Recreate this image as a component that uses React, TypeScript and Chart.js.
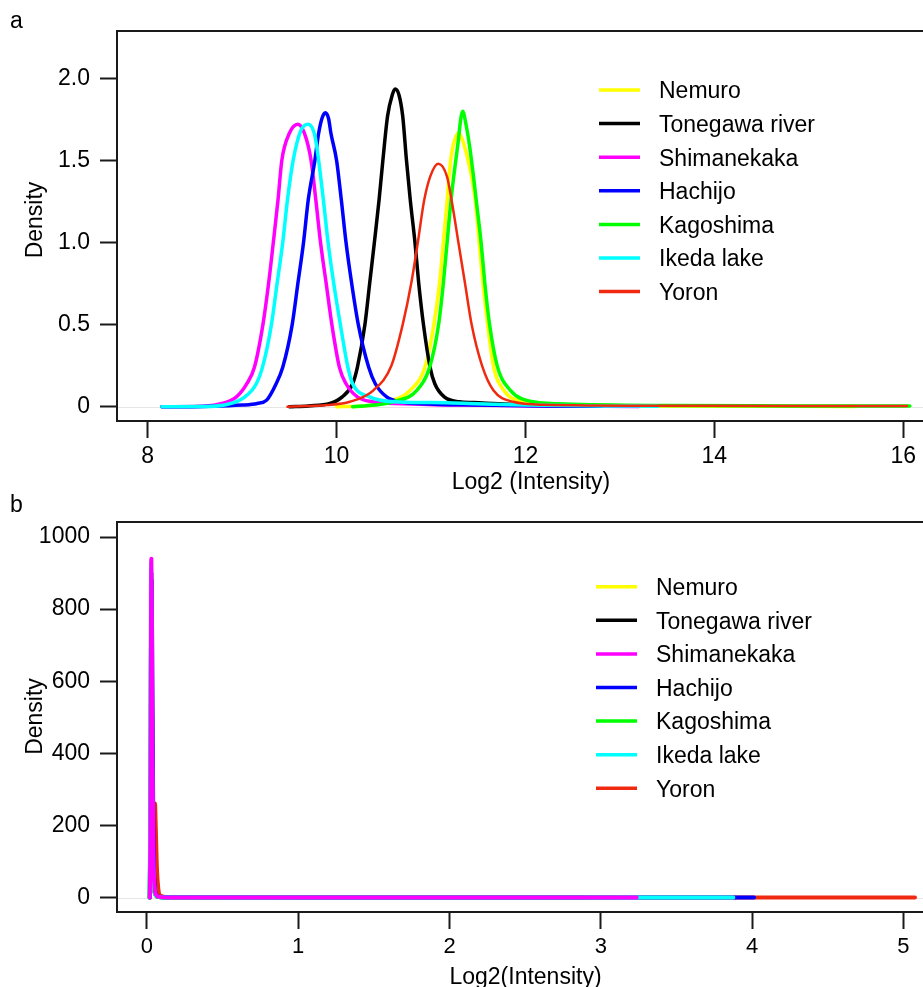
import React, { useEffect, useRef } from "react";
import { Chart, registerables } from "chart.js";

Chart.register(...registerables);

// ---------- data ----------
const seriesNames = ["Nemuro", "Tonegawa river", "Shimanekaka", "Hachijo", "Kagoshima", "Ikeda lake", "Yoron"];
const seriesColors = ["#ffff00", "#000000", "#ff00ff", "#0000ff", "#00ff00", "#00ffff", "#f02a10"];

// Panel a: density of log2 intensity  [x, density]
const nemuroA = [[10.0,0],[10.3,0.005],[10.53,0.03],[10.78,0.1],[10.94,0.25],[11.03,0.5],[11.09,0.75],[11.13,1.0],[11.17,1.25],[11.19,1.4],[11.22,1.55],[11.26,1.64],[11.29,1.665],[11.33,1.63],[11.38,1.53],[11.43,1.4],[11.47,1.25],[11.51,1.0],[11.55,0.75],[11.6,0.5],[11.66,0.25],[11.77,0.1],[11.98,0.03],[12.4,0.012],[13.5,0.005],[14.8,0.003],[15.5,0.002]];
const tonegawaA = [[9.5,0],[9.7,0.005],[9.93,0.02],[10.06,0.06],[10.17,0.14],[10.22,0.24],[10.3,0.5],[10.35,0.75],[10.4,1.0],[10.45,1.26],[10.49,1.5],[10.54,1.77],[10.59,1.9],[10.62,1.935],[10.66,1.9],[10.7,1.77],[10.74,1.5],[10.78,1.26],[10.83,1.0],[10.87,0.75],[10.92,0.5],[10.99,0.24],[11.04,0.14],[11.14,0.06],[11.3,0.03],[11.45,0.025],[12.0,0.012],[12.6,0.006],[13.0,0.004]];
const shimanekakaA = [[8.15,0],[8.5,0.001],[8.75,0.015],[8.94,0.06],[9.05,0.14],[9.13,0.24],[9.22,0.5],[9.28,0.75],[9.33,1.0],[9.38,1.26],[9.42,1.5],[9.5,1.665],[9.59,1.72],[9.66,1.665],[9.73,1.5],[9.78,1.26],[9.83,1.0],[9.89,0.75],[9.95,0.5],[10.03,0.24],[10.1,0.14],[10.22,0.06],[10.38,0.03],[10.7,0.018],[11.3,0.01],[12.2,0.004],[13.2,0.002]];
const hachijoA = [[8.15,0],[8.6,0.002],[9.0,0.01],[9.16,0.02],[9.26,0.04],[9.36,0.14],[9.43,0.24],[9.53,0.5],[9.59,0.75],[9.65,1.0],[9.7,1.26],[9.77,1.5],[9.81,1.665],[9.845,1.755],[9.88,1.79],[9.915,1.755],[9.94,1.665],[10.0,1.5],[10.05,1.26],[10.1,1.0],[10.16,0.75],[10.23,0.5],[10.34,0.24],[10.41,0.14],[10.53,0.06],[10.67,0.03],[10.9,0.018],[11.5,0.01],[12.2,0.005],[12.8,0.003]];
const kagoshimaA = [[10.17,0],[10.4,0.01],[10.6,0.03],[10.85,0.1],[10.99,0.25],[11.08,0.5],[11.13,0.75],[11.17,1.0],[11.21,1.25],[11.24,1.4],[11.28,1.58],[11.335,1.8],[11.37,1.72],[11.41,1.58],[11.45,1.4],[11.48,1.25],[11.53,1.0],[11.57,0.75],[11.62,0.5],[11.7,0.25],[11.84,0.1],[12.08,0.03],[12.5,0.015],[13.5,0.007],[14.8,0.005],[16.07,0.004]];
const ikedaA = [[8.15,0],[8.6,0.001],[8.85,0.015],[9.03,0.06],[9.15,0.14],[9.22,0.25],[9.31,0.5],[9.37,0.75],[9.43,1.0],[9.48,1.26],[9.54,1.5],[9.62,1.68],[9.7,1.72],[9.77,1.65],[9.81,1.5],[9.86,1.26],[9.91,1.0],[9.97,0.75],[10.04,0.5],[10.12,0.24],[10.17,0.14],[10.35,0.06],[10.6,0.03],[11.0,0.025],[11.4,0.02],[12.0,0.01],[12.8,0.005],[13.4,0.003]];
const yoronA = [[9.48,0],[9.9,0.01],[10.14,0.03],[10.39,0.1],[10.58,0.25],[10.7,0.5],[10.79,0.75],[10.86,1.0],[10.925,1.25],[10.99,1.4],[11.077,1.48],[11.17,1.4],[11.22,1.25],[11.29,1.0],[11.36,0.75],[11.43,0.5],[11.54,0.25],[11.66,0.1],[11.87,0.03],[12.2,0.012],[13.5,0.006],[15.0,0.004],[16.04,0.004]];

// Panel b: density of log2 of (unlogged) intensity  [x, density]
const nemuroB = [[0.018,0],[0.024,300],[0.029,880],[0.034,500],[0.04,120],[0.05,20],[0.07,3],[0.12,0.5],[1.0,0.05],[2.6,0]];
const tonegawaB = [[0.018,0],[0.024,320],[0.029,900],[0.034,480],[0.04,110],[0.05,15],[0.07,2],[0.12,0.5],[1.0,0.05],[2.9,0]];
const shimanekakaB = [[0.019,0],[0.023,200],[0.027,800],[0.029,940],[0.032,800],[0.036,400],[0.042,120],[0.05,30],[0.06,8],[0.08,2],[0.15,0.3],[1.0,0.05],[3.237,0]];
const hachijoB = [[0.02,0],[0.026,400],[0.031,880],[0.036,600],[0.042,200],[0.05,40],[0.065,6],[0.1,1],[1.0,0.05],[4.013,0]];
const kagoshimaB = [[0.017,0],[0.022,150],[0.027,700],[0.032,600],[0.038,150],[0.05,15],[0.07,2],[0.12,0.3],[1.0,0.05],[3.1,0]];
const ikedaB = [[0.017,0],[0.021,200],[0.025,850],[0.027,930],[0.031,700],[0.036,300],[0.045,50],[0.06,5],[0.1,0.5],[1.0,0.05],[3.876,0]];
const yoronB = [[0.017,0],[0.025,40],[0.035,120],[0.045,230],[0.053,261],[0.058,200],[0.065,90],[0.075,25],[0.09,5],[0.15,0.5],[1.0,0.05],[5.077,0]];

const seriesA = [nemuroA, tonegawaA, shimanekakaA, hachijoA, kagoshimaA, ikedaA, yoronA];
const seriesB = [nemuroB, tonegawaB, shimanekakaB, hachijoB, kagoshimaB, ikedaB, yoronB];

const xTicksA = [8, 10, 12, 14, 16];
const xTickLabelsA = ["8", "10", "12", "14", "16"];
const yTicksA = [0, 0.5, 1, 1.5, 2];
const yTickLabelsA = ["0", "0.5", "1.0", "1.5", "2.0"];
const xTicksB = [0, 1, 2, 3, 4, 5];
const xTickLabelsB = ["0", "1", "2", "3", "4", "5"];
const yTicksB = [0, 200, 400, 600, 800, 1000];
const yTickLabelsB = ["0", "200", "400", "600", "800", "1000"];

const xRangeA = [7.675, 16.209];
const yRangeA = [-0.087, 2.288];
const xRangeB = [-0.198, 5.13];
const yRangeB = [-39.9, 1041.6];

// draw order: lower value = drawn on top
const orderA = [6, 5, 4, 3, 2, 1, 0];
const orderB = [6, 5, 0, 2, 4, 1, 3];

// ---------- styling / layout ----------
const FONT = "'Liberation Sans', Arial, Helvetica, sans-serif";
const INK = "#1a1a1a";

type PanelCfg = {
  letter: string;
  letterX: number;
  letterY: number;
  yTitle: string;
  yTitleX: number;
  yTitleY: number;
  xTitle: string;
  xTitleX: number;
  xTitleY: number;
  legX1: number;
  legX2: number;
  legTextX: number;
  legY0: number;
  legStep: number;
};

function makeDecor(cfg: PanelCfg) {
  return {
    id: "decor" + cfg.letter,
    beforeDatasetsDraw(chart: any) {
      const { ctx, chartArea: a, scales } = chart;
      const y0 = scales.y.getPixelForValue(0);
      ctx.save();
      ctx.strokeStyle = "#e6e6e6";
      ctx.lineWidth = 1;
      ctx.beginPath();
      ctx.moveTo(a.left, Math.round(y0) + 0.5);
      ctx.lineTo(a.right, Math.round(y0) + 0.5);
      ctx.stroke();
      ctx.restore();
    },
    afterDraw(chart: any) {
      const { ctx, chartArea: a } = chart;
      ctx.save();
      // box (right side lies beyond the visible canvas)
      ctx.strokeStyle = INK;
      ctx.lineWidth = 2;
      ctx.strokeRect(a.left, a.top, a.right - a.left + 40, a.bottom - a.top);

      ctx.fillStyle = "#000";
      ctx.font = `23px ${FONT}`;
      ctx.textBaseline = "alphabetic";
      // panel letter
      ctx.textAlign = "left";
      ctx.fillText(cfg.letter, cfg.letterX, cfg.letterY);
      // x title
      ctx.textAlign = "center";
      ctx.fillText(cfg.xTitle, cfg.xTitleX, cfg.xTitleY);
      // y title
      ctx.save();
      ctx.translate(cfg.yTitleX, cfg.yTitleY);
      ctx.rotate(-Math.PI / 2);
      ctx.textAlign = "center";
      ctx.fillText(cfg.yTitle, 0, 0);
      ctx.restore();
      // legend
      ctx.lineCap = "butt";
      ctx.textAlign = "left";
      seriesNames.forEach((name, i) => {
        const y = cfg.legY0 + i * cfg.legStep;
        ctx.strokeStyle = seriesColors[i];
        ctx.lineWidth = 3.5;
        ctx.beginPath();
        ctx.moveTo(cfg.legX1, y);
        ctx.lineTo(cfg.legX2, y);
        ctx.stroke();
        ctx.fillStyle = "#000";
        ctx.fillText(name, cfg.legTextX, y + 8.3);
      });
      ctx.restore();
    },
  };
}

function makeConfig(
  series: number[][][],
  order: number[],
  widths: number[],
  xRange: number[],
  yRange: number[],
  xTicks: number[],
  xLabels: string[],
  yTicks: number[],
  yLabels: string[],
  xFont: number,
  yFont: number,
  topPad: number,
  xAxisHeight: number,
  cfg: PanelCfg
): any {
  return {
    type: "line",
    data: {
      datasets: series.map((pts, i) => ({
        label: seriesNames[i],
        data: pts.map((p) => ({ x: p[0], y: p[1] })),
        borderColor: seriesColors[i],
        backgroundColor: seriesColors[i],
        borderWidth: widths[i],
        pointRadius: 0,
        fill: false,
        cubicInterpolationMode: "monotone",
        borderJoinStyle: "round",
        borderCapStyle: "round",
        order: order[i],
      })),
    },
    options: {
      responsive: false,
      animation: false,
      devicePixelRatio: 1,
      layout: { padding: { top: topPad, left: 0, right: 0, bottom: 0 } },
      plugins: { legend: { display: false }, tooltip: { enabled: false }, title: { display: false } },
      scales: {
        x: {
          type: "linear",
          min: xRange[0],
          max: xRange[1],
          afterBuildTicks: (s: any) => {
            s.ticks = xTicks.map((v) => ({ value: v }));
          },
          afterFit: (s: any) => {
            s.height = xAxisHeight;
          },
          ticks: {
            callback: (_v: any, i: number) => xLabels[i],
            font: { family: FONT, size: xFont },
            color: "#000",
            padding: 5,
            autoSkip: false,
            maxRotation: 0,
            minRotation: 0,
          },
          grid: { drawOnChartArea: false, drawTicks: true, tickLength: 17, tickWidth: 2, tickColor: INK, color: INK },
          border: { display: false },
        },
        y: {
          type: "linear",
          min: yRange[0],
          max: yRange[1],
          afterBuildTicks: (s: any) => {
            s.ticks = yTicks.map((v) => ({ value: v }));
          },
          afterFit: (s: any) => {
            s.width = 117;
          },
          ticks: {
            callback: (_v: any, i: number) => yLabels[i],
            font: { family: FONT, size: yFont },
            color: "#000",
            padding: 10,
            autoSkip: false,
          },
          grid: { drawOnChartArea: false, drawTicks: true, tickLength: 17, tickWidth: 2, tickColor: INK, color: INK },
          border: { display: false },
        },
      },
    },
    plugins: [makeDecor(cfg)],
  };
}

const panelA: PanelCfg = {
  letter: "a", letterX: 10, letterY: 28,
  yTitle: "Density", yTitleX: 42, yTitleY: 220,
  xTitle: "Log2 (Intensity)", xTitleX: 531, xTitleY: 489,
  legX1: 599, legX2: 640, legTextX: 659, legY0: 90, legStep: 33.6,
};
const panelB: PanelCfg = {
  letter: "b", letterX: 10, letterY: 22,
  yTitle: "Density", yTitleX: 41.5, yTitleY: 226.5,
  xTitle: "Log2(Intensity)", xTitleX: 525.5, xTitleY: 493.5,
  legX1: 596, legX2: 637, legTextX: 656, legY0: 96.7, legStep: 33.6,
};

export default function App() {
  const refA = useRef<HTMLCanvasElement>(null);
  const refB = useRef<HTMLCanvasElement>(null);

  useEffect(() => {
    const ca = new Chart(
      refA.current as HTMLCanvasElement,
      makeConfig(seriesA, orderA, [3.5, 3.5, 3.5, 3.5, 3.5, 3.5, 2.5], xRangeA, yRangeA, xTicksA, xTickLabelsA, yTicksA, yTickLabelsA, 23, 23, 31, 79, panelA)
    );
    const cb = new Chart(
      refB.current as HTMLCanvasElement,
      makeConfig(seriesB, orderB, [4, 4, 4, 4, 4, 4, 4], xRangeB, yRangeB, xTicksB, xTickLabelsB, yTicksB, yTickLabelsB, 22, 23, 32, 75, panelB)
    );
    return () => {
      ca.destroy();
      cb.destroy();
    };
  }, []);

  return (
    <div style={{ position: "absolute", left: 0, top: 0, width: 923, height: 987, background: "#fff", overflow: "hidden" }}>
      <canvas ref={refA} width={923} height={500} style={{ position: "absolute", left: 0, top: 0 }} />
      <canvas ref={refB} width={923} height={497} style={{ position: "absolute", left: 0, top: 490 }} />
    </div>
  );
}
